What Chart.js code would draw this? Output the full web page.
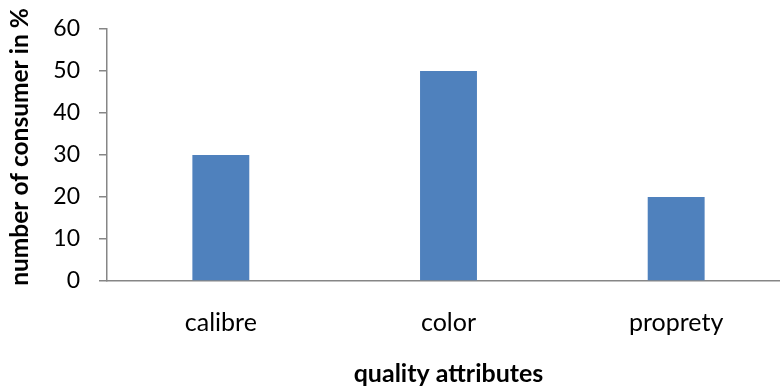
<!DOCTYPE html>
<html>
<head>
<meta charset="utf-8">
<script src="https://cdn.jsdelivr.net/npm/chart.js@4/dist/chart.umd.min.js"></script>
<style>
  html, body { margin: 0; padding: 0; background: #fff; overflow: hidden; }
  #wrap { width: 780px; height: 390px; overflow: hidden; }
  canvas { display: block; }
</style>
</head>
<body>
<div id="wrap"><canvas id="c" width="790" height="390"></canvas></div>
<script>
// Share of consumers citing each quality attribute
const categories = ['calibre', 'color', 'proprety'];
const consumerShare = [30, 50, 20];
const yTicks = [0, 10, 20, 30, 40, 50, 60];
const yTitle = 'number of consumer in %';
const xTitle = 'quality attributes';

const axisGray = '#868686';
const fontFamily = 'Lato, "Open Sans", sans-serif';

// Rotated y-axis title, placed in the space reserved on the left of the axis
const yTitlePlugin = {
  id: 'yTitle',
  afterDraw(chart) {
    const { ctx } = chart;
    ctx.save();
    ctx.translate(20, 147);
    ctx.rotate(-Math.PI / 2);
    ctx.font = 'bold 24.5px ' + fontFamily;
    ctx.fillStyle = '#000';
    ctx.textAlign = 'center';
    ctx.textBaseline = 'middle';
    ctx.fillText(yTitle, 0, 0);
    ctx.restore();
  }
};

new Chart(document.getElementById('c'), {
  type: 'bar',
  data: {
    labels: categories,
    datasets: [{
      data: consumerShare,
      backgroundColor: '#4F81BD',
      borderWidth: 0,
      barPercentage: 0.25,
      categoryPercentage: 1.0
    }]
  },
  plugins: [yTitlePlugin],
  options: {
    responsive: false,
    devicePixelRatio: 1,
    animation: false,
    layout: { padding: { top: 29, right: 0, bottom: 0, left: 0 } },
    plugins: { legend: { display: false }, tooltip: { enabled: false } },
    scales: {
      x: {
        grid: { display: false, drawTicks: false },
        border: { display: true, color: axisGray, width: 1.5 },
        ticks: { color: '#000', padding: 27, font: { family: fontFamily, size: 25 } },
        title: {
          display: true,
          text: xTitle,
          color: '#000',
          font: { family: fontFamily, size: 25, weight: 'bold' },
          padding: { top: 0, bottom: 1 }
        },
        afterFit: s => { s.height = 109; }
      },
      y: {
        min: 0,
        max: 60,
        afterBuildTicks: s => { s.ticks = yTicks.map(v => ({ value: v })); },
        grid: { drawOnChartArea: false, drawTicks: true, tickLength: 8, color: axisGray, lineWidth: 1.5 },
        border: { display: true, color: axisGray, width: 1.5 },
        ticks: { color: '#000', padding: 19, font: { family: fontFamily, size: 23 } },
        afterFit: s => { s.width = 107; s.paddingTop = 0; s.paddingBottom = 0; }
      }
    }
  }
});
</script>
</body>
</html>
